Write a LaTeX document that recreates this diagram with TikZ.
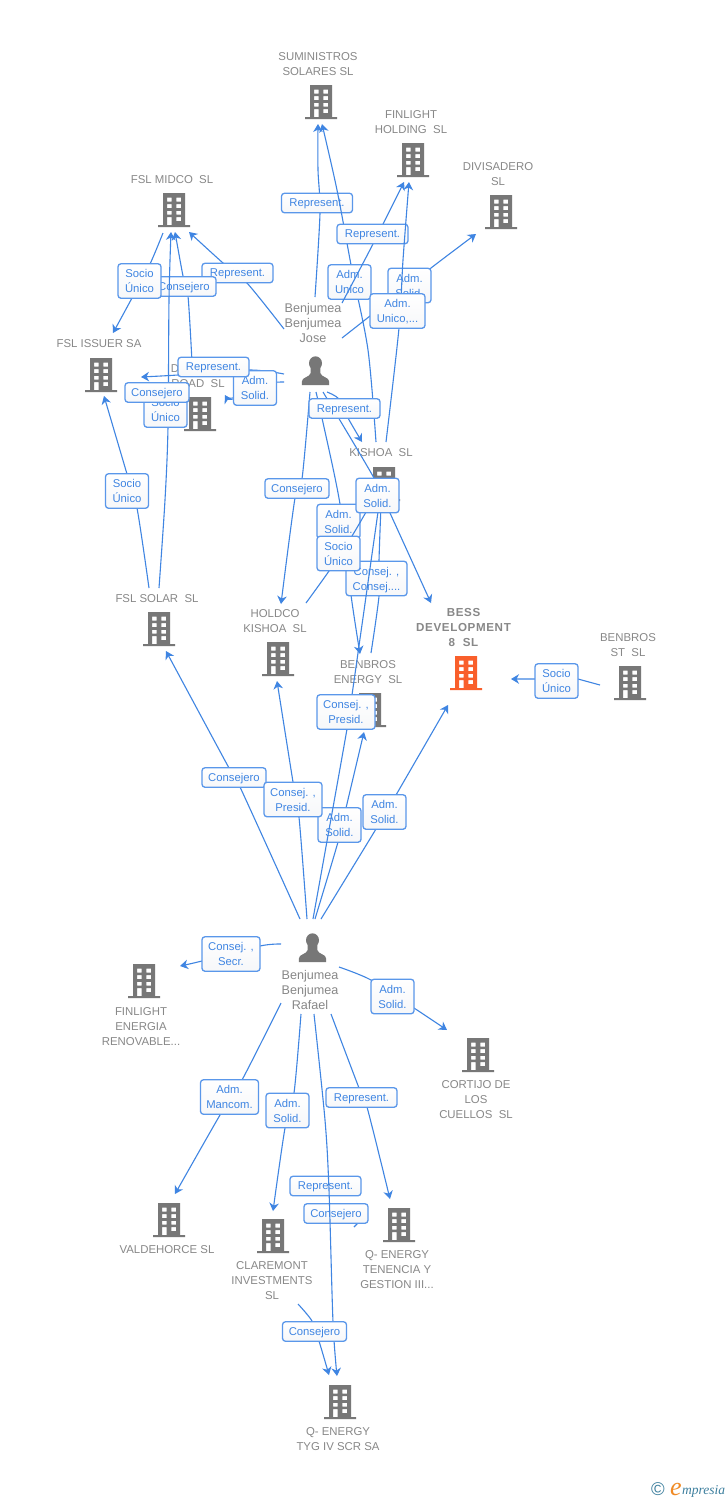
\documentclass[tikz,border=0pt]{standalone}
\usepackage{fontspec}
\setmainfont{Liberation Sans}
\newfontfamily\logofont{Liberation Serif}
\usetikzlibrary{arrows.meta}
\definecolor{icong}{HTML}{777777}
\definecolor{iconorange}{HTML}{F95F2B}
\definecolor{txtg}{HTML}{888888}
\definecolor{linkb}{HTML}{3F85E2}
\definecolor{boxb}{HTML}{5A97EA}
\definecolor{boxlow}{HTML}{F6F7F9}
\definecolor{logob}{HTML}{3D7F9E}
\definecolor{logoo}{HTML}{F08A24}
\tikzset{
  pics/bldg/.style={code={
    \fill[#1,even odd rule] (-16,15) -- (-11,15) -- (-11,-17) -- (11,-17) -- (11,15) -- (16,15) -- (16,17) -- (-16,17) -- cycle
      (-7,-12.5) rectangle (-2.4,-8.3) (2.4,-12.5) rectangle (7,-8.3)
      (-7,-5.8) rectangle (-2.4,-1.8) (2.4,-5.8) rectangle (7,-1.8)
      (-7,0.8) rectangle (-2.4,4.6) (2.4,0.8) rectangle (7,4.6)
      (-7,7.2) rectangle (-2.4,15) (2.4,7.2) rectangle (7,11.2);
  }},
  pics/person/.style={code={
    \fill[icong] (0,-7.8) ellipse (6.5 and 6.9);
    \fill[icong] (-13.6,14) -- (-13.6,10.5) .. controls (-13.6,6) and (-6,6.5) .. (-4.8,2) -- (-4.8,-4) -- (4.8,-4) -- (4.8,2) .. controls (6,6.5) and (13.6,6) .. (13.6,10.5) -- (13.6,14) -- cycle;
  }},
  gcap/.style={text=txtg,font=\fontsize{11.4}{15}\selectfont,align=center,inner sep=0pt,yshift=-1pt},
  gcapb/.style={gcap,yshift=1pt,font=\bfseries\addfontfeature{LetterSpace=5.5}\fontsize{11.6}{15}\selectfont},
  gcapp/.style={gcap,yshift=1pt,font=\fontsize{12.6}{15}\selectfont},
  lbox/.style={draw=boxb,line width=1.3pt,rounded corners=3pt,top color=white,bottom color=boxlow,text=linkb,align=center,inner sep=0pt,
    font=\fontsize{11.3}{15}\selectfont,minimum height=34.5pt,text depth=-3.5pt},
  repb/.style={lbox,minimum width=71pt,minimum height=19.5pt,text depth=-0.5pt},
  conb/.style={lbox,minimum width=64pt,minimum height=19.5pt,text depth=-0.5pt},
  twob/.style={lbox,minimum width=43pt},
  midb/.style={lbox,minimum width=58pt},
  lnk/.style={draw=linkb,line width=1.1pt},
  arr/.style={lnk,-{Stealth[length=8pt,width=9.5pt,inset=2.5pt]}},
}
\begin{document}
\begin{tikzpicture}[x=1pt,y=-1pt]
\useasboundingbox (0,0) rectangle (728,1500);
\fill[white] (0,0) rectangle (728,1500);

% companies and people
\coordinate (sum) at (321,102);
\coordinate (fho) at (413,160);
\coordinate (div) at (501,212);
\coordinate (mid) at (174,210);
\coordinate (iss) at (101,375);
\coordinate (roa) at (200,414);
\coordinate (kis) at (384,484);
\coordinate (hol) at (278,659);
\coordinate (ben) at (370,710);
\coordinate (bes) at (466,673);
\coordinate (bst) at (630,683);
\coordinate (sol) at (159,629);
\coordinate (fen) at (144,981);
\coordinate (cor) at (478,1055);
\coordinate (val) at (169,1220);
\coordinate (cla) at (273,1236);
\coordinate (qte) at (399,1225);
\coordinate (qty) at (340,1402);
\coordinate (jos) at (315.5,371);
\coordinate (raf) at (312.5,948);
\foreach \b in {sum,fho,div,mid,iss,roa,kis,hol,ben,bst,sol,fen,cor,val,cla,qte,qty} \pic at (\b) {bldg=icong};
\pic at (bes) {bldg=iconorange};
\pic at (jos) {person};
\pic at (raf) {person};

\node[gcap] (tsum) at (318,63.5) {SUMINISTROS\\SOLARES SL};
\node[gcap] (tfho) at (411,121.5) {FINLIGHT\\HOLDING\ \ SL};
\node[gcap] (tdiv) at (498,173.5) {DIVISADERO\\SL};
\node[gcap] (tmid) at (172,179) {FSL MIDCO\ \ SL};
\node[gcap] (tiss) at (99,343) {FSL ISSUER SA};
\node[gcap] (troa) at (198,383) {ROAD\ \ SL};
\node[gcap] (troa2) at (175,368) {D};
\node[gcap] (tkis) at (381,452) {KISHOA\ \ SL};
\node[gcap] (thol) at (275,620.5) {HOLDCO\\KISHOA\ \ SL};
\node[gcap] (tben) at (368,671.5) {BENBROS\\ENERGY\ \ SL};
\node[gcapb] (tbes) at (463.5,627) {BESS\\DEVELOPMENT\\8\ \ SL};
\node[gcap] (tbst) at (628,644.5) {BENBROS\\ST\ \ SL};
\node[gcap] (tsol) at (157,598) {FSL SOLAR\ \ SL};
\node[gcap] (tfen) at (141,1026) {FINLIGHT\\ENERGIA\\RENOVABLE...};
\node[gcap] (tcor) at (476,1099) {CORTIJO DE\\LOS\\CUELLOS\ \ SL};
\node[gcap] (tval) at (167,1249) {VALDEHORCE SL};
\node[gcap] (tcla) at (272,1280) {CLAREMONT\\INVESTMENTS\\SL};
\node[gcap] (tqte) at (397,1269) {Q- ENERGY\\TENENCIA Y\\GESTION III...};
\node[gcap] (tqty) at (338,1438.5) {Q- ENERGY\\TYG IV SCR SA};
\node[gcapp] (tjos) at (313,323) {Benjumea\\Benjumea\\Jose};
\node[gcapp] (traf) at (310,990) {Benjumea\\Benjumea\\Rafael};

% connector ends
\coordinate (a1s) at (315,297);   \coordinate (a1e) at (318,124);
\coordinate (a2s) at (376,442);   \coordinate (a2e) at (322,124);
\coordinate (a3s) at (342,303);   \coordinate (a3e) at (404,182);
\coordinate (a4s) at (386,442);   \coordinate (a4e) at (409,182);
\coordinate (a5s) at (342,338);   \coordinate (a5e) at (476,234);
\coordinate (a6s) at (284,329);   \coordinate (a6e) at (189,232);
\coordinate (a7s) at (163,233);   \coordinate (a7e) at (113,333);
\coordinate (a8s) at (159,588);   \coordinate (a8e) at (171,232);
\coordinate (a9s) at (192,362);   \coordinate (a9e) at (175,232);
\coordinate (a10s) at (149,588);  \coordinate (a10e) at (104,396);
\coordinate (a11s) at (284,374);  \coordinate (a11e) at (141,377);
\coordinate (a12s) at (284,382);  \coordinate (a12e) at (225,395);
\coordinate (a13s) at (327,392);  \coordinate (a13e) at (362,442);
\coordinate (a14s) at (310,392);  \coordinate (a14e) at (281,604);
\coordinate (a15s) at (316,392);  \coordinate (a15e) at (360,654);
\coordinate (a16s) at (323,392);  \coordinate (a16e) at (431,603);
\coordinate (a17s) at (306,603);  \coordinate (a17e) at (370,505);
\coordinate (a18s) at (371,653);  \coordinate (a18e) at (381,505);
\coordinate (a19s) at (313,919);  \coordinate (a19e) at (379,505);
\coordinate (b1s) at (300,919);   \coordinate (b1e) at (166,651);
\coordinate (b2s) at (307,919);   \coordinate (b2e) at (277,681);
\coordinate (b3s) at (315,919);   \coordinate (b3e) at (364,732);
\coordinate (b4s) at (321,919);   \coordinate (b4e) at (448,705);
\coordinate (b5s) at (600,685);   \coordinate (b5e) at (511,679);
\coordinate (b6s) at (281,944);   \coordinate (b6e) at (180,966);
\coordinate (b7s) at (339,967);   \coordinate (b7e) at (447,1030);
\coordinate (b8s) at (281,1003);  \coordinate (b8e) at (175,1194);
\coordinate (b9s) at (301,1014);  \coordinate (b9e) at (273,1211);
\coordinate (b10s) at (314,1014); \coordinate (b10e) at (337,1376);
\coordinate (b11s) at (331,1014); \coordinate (b11e) at (390,1199);
\coordinate (b12s) at (298,1304); \coordinate (b12e) at (329,1375);
\coordinate (b13s) at (354,1227);

% upper group
\draw[arr] plot[smooth] coordinates {(a1s) (320,213) (318,170) (a1e)};
\node[repb] (l1) at (317,203) {Represent.};
\draw[arr] plot[smooth] coordinates {(a2s) (368,350) (352,270) (337,190) (a2e)};
\node[twob] (l2) at (349.5,282) {Adm.\\Unico};
\draw[arr] plot[smooth] coordinates {(a3s) (373,244) (a3e)};
\node[repb] (l3) at (372.5,234) {Represent.};
\draw[arr] plot[smooth] coordinates {(a5s) (370,316) (431,268) (a5e)};
\node[twob] (l5) at (409.5,285.5) {Adm.\\Solid.};
\draw[arr] plot[smooth] coordinates {(a4s) (399,328) (403,260) (a4e)};
\node[lbox,minimum width=55pt] (l4) at (397.5,311) {Adm.\\Unico,...};
\draw[arr] plot[smooth] coordinates {(a6s) (247,283) (223,263) (a6e)};
\node[repb] (l6) at (237.5,273) {Represent.};
\draw[arr] plot[smooth] coordinates {(a9s) (188,296) (183,276) (a9e)};
\node[conb] (l9) at (184,286.5) {Consejero};
\draw[arr] plot[smooth] coordinates {(a7s) (150,264) (132,298) (a7e)};
\node[twob] (l7) at (139.5,281) {Socio\\Único};
\draw[arr] plot[smooth] coordinates {(a10s) (137,508) (127,474) (a10e)};
\node[twob] (l10) at (127,491) {Socio\\Único};
\draw[arr] plot[smooth] coordinates {(a8s) (165,500) (168,427) (169,300) (a8e)};
\node[twob] (l8) at (165.5,410) {Socio\\Único};
\draw[arr] plot[smooth] coordinates {(a11s) (249,370) (178,375) (a11e)};
\node[conb] (l11b) at (157,392.5) {Consejero};
\draw[arr] plot[smooth] coordinates {(a12s) (265,384) (233,398) (a12e)};
\node[twob] (l12) at (255,388) {Adm.\\Solid.};
\node[repb] (l11) at (213.5,367) {Represent.};
\draw[arr] plot[smooth] coordinates {(a14s) (302,479) (295,498) (a14e)};
\node[conb] (l14) at (297,488.5) {Consejero};
\draw[arr] plot[smooth] coordinates {(a15s) (322,418) (340,504) (351,595) (a15e)};
\node[twob] (l15) at (338.5,521.5) {Adm.\\Solid.};
\draw[arr] plot[smooth] coordinates {(a13s) (339,399) (348,418) (a13e)};
\draw[arr] plot[smooth] coordinates {(a16s) (374,478) (390,513) (a16e)};
\draw[lnk] plot[smooth] coordinates {(a18s) (379,596) (379,561) (a18e)};
\node[lbox,minimum width=61pt] (l18) at (376.5,578.5) {Consej. ,\\Consej....};
\node[repb] (l13) at (344.5,408.5) {Represent.};
% lower group, Rafael to KISHOA crosses earlier labels
\draw[arr] plot[smooth] coordinates {(b1s) (240,787) (229,768) (b1e)};
\node[conb] (m1) at (234,777.5) {Consejero};
\draw[arr] plot[smooth] coordinates {(b3s) (338,842) (346,808) (b3e)};
\node[twob] (m3) at (339.5,825) {Adm.\\Solid.};
\draw[arr] plot[smooth] coordinates {(b2s) (299,817) (293,782) (b2e)};
\node[midb] (m2) at (293,799.5) {Consej. ,\\Presid.};
\draw[arr] plot[smooth] coordinates {(b4s) (376,829) (396,795) (b4e)};
\node[twob] (m4) at (384.5,812) {Adm.\\Solid.};
\draw[lnk] plot[smooth] coordinates {(a19s) (347,729) (352,695) (a19e)};
\node[midb] (l19) at (346,712) {Consej. ,\\Presid.};
\draw[lnk] plot[smooth] coordinates {(a17s) (329,571) (352,536) (a17e)};
\node[twob] (l17) at (338.5,553.5) {Socio\\Único};
\node[twob] (l16) at (377.5,495.5) {Adm.\\Solid.};
\draw[arr] (b5s) -- (578,679) -- (535,679) -- (b5e);
\node[twob] (m5) at (556.5,681) {Socio\\Único};

% Rafael lower part
\draw[arr] plot[smooth] coordinates {(b6s) (260,946) (202,961) (b6e)};
\node[midb] (n1) at (231,954) {Consej. ,\\Secr.};
\draw[arr] plot[smooth] coordinates {(b7s) (371,980) (414,1008) (b7e)};
\node[twob] (n2) at (392.5,996.5) {Adm.\\Solid.};
\draw[arr] plot[smooth] coordinates {(b8s) (242,1080) (220,1115) (b8e)};
\node[midb] (n3) at (229.5,1097) {Adm.\\Mancom.};
\draw[arr] plot[smooth] coordinates {(b9s) (294,1093) (285,1128) (b9e)};
\node[twob] (n4) at (287.5,1110.5) {Adm.\\Solid.};
\draw[arr] plot[smooth] coordinates {(b11s) (359,1088) (367,1107) (b11e)};
\node[repb] (n5) at (361.5,1097.5) {Represent.};
\node[repb] (n6) at (325.5,1186) {Represent.};
\draw[lnk] (b13s) -- (357,1224) -- (360,1213);
\node[conb] (n7) at (336,1213.5) {Consejero};
\draw[arr] plot[smooth] coordinates {(b10s) (325,1120) (329,1190) (333,1322) (b10e)};
\draw[arr] plot[smooth] coordinates {(b12s) (312,1321) (319,1341) (b12e)};
\node[conb] (n8) at (314.5,1331.5) {Consejero};

% logo
\node[inner sep=0pt,text=logob,font=\fontsize{18.5}{18.5}\selectfont] (lc) at (658,1489) {©};
\node[inner sep=0pt,anchor=base west,text=logoo,font=\logofont\itshape\fontsize{26}{26}\selectfont] (le) at (670,1495) {e};
\node[inner sep=0pt,anchor=base west,text=logob,font=\logofont\itshape\fontsize{13.5}{13.5}\selectfont] (lm) at (682,1494) {mpresia};
\end{tikzpicture}
\end{document}
